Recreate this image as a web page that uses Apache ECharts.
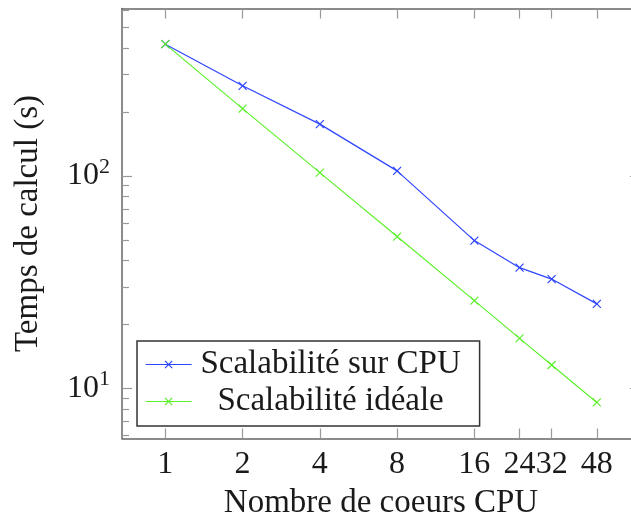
<!DOCTYPE html>
<html><head><meta charset="utf-8">
<script src="https://cdn.jsdelivr.net/npm/echarts@6/dist/echarts.min.js"></script>
<style>html,body{margin:0;padding:0;background:#fff}#c{width:631px;height:519px}</style>
</head><body><div id="c"></div>
<script>
const cores = [1, 2, 4, 8, 16, 24, 32, 48];
const cpuTimes = [416, 265, 175, 105.5, 49.6, 37, 32.7, 25];
const idealTimes = [416, 207, 103.5, 51.8, 25.9, 17.2, 12.9, 8.6];
const xTickValues = [1, 2, 4, 8, 16, 24, 32, 48];
const yMajorTicks = [10, 100];
const yMinorTicks = [6, 7, 8, 9, 20, 30, 40, 50, 60, 70, 80, 90, 200, 300, 400, 500, 600];
const seriesNames = ['Scalabilité sur CPU', 'Scalabilité idéale'];
const xTitle = 'Nombre de coeurs CPU';
const yTitle = 'Temps de calcul (s)';

const FONT = '"Liberation Serif", "Times New Roman", serif';
const TXT = '#1a1a1a';
const AXC = '#666';
const TKC = '#999';
const xMin = 0.678, xMax = 70.7, yMin = 5.82, yMax = 612;
const X = 'path://M0,0L10,10M10,0L0,10';

function xAx(pos, main) {
  return {
    type: 'log', logBase: 2, min: xMin, max: xMax, position: pos,
    axisLine: { show: true, lineStyle: { color: AXC, width: 1.5 } },
    axisTick: { show: true, inside: true, length: 10, customValues: xTickValues, lineStyle: { color: TKC, width: 1.2 } },
    axisLabel: main ? { show: true, customValues: xTickValues, formatter: v => String(Math.round(v)), fontFamily: FONT, fontSize: 32, color: TXT, margin: 10 } : { show: false },
    splitLine: { show: false }, minorTick: { show: false },
    name: main ? xTitle : '', nameLocation: 'middle', nameGap: 48,
    nameTextStyle: { fontFamily: FONT, fontSize: 33, color: TXT }
  };
}
function yAx(pos, major, main) {
  return {
    type: 'log', logBase: 10, min: yMin, max: yMax, position: pos,
    axisLine: { show: major, lineStyle: { color: AXC, width: 1.5 } },
    axisTick: { show: true, inside: true, length: major ? 10 : 7, customValues: major ? yMajorTicks : yMinorTicks, lineStyle: { color: TKC, width: 1.2 } },
    axisLabel: main ? {
      show: true, customValues: yMajorTicks, margin: 12,
      formatter: v => '{n|10}{s|' + Math.round(Math.log10(v)) + '}',
      rich: { n: { fontFamily: FONT, fontSize: 32, color: TXT, lineHeight: 40 }, s: { fontFamily: FONT, fontSize: 22, color: TXT, verticalAlign: 'top', lineHeight: 22 } }
    } : { show: false },
    splitLine: { show: false }, minorTick: { show: false },
    name: main ? yTitle : '', nameLocation: 'middle', nameGap: 77,
    nameTextStyle: { fontFamily: FONT, fontSize: 33, color: TXT }
  };
}

const chart = echarts.init(document.getElementById('c'), null, { renderer: 'canvas' });
chart.setOption({
  animation: false,
  backgroundColor: '#fff',
  grid: { left: 122, top: 8.5, width: 518, height: 430, containLabel: false, outerBoundsMode: 'none' },
  xAxis: [xAx('bottom', true), xAx('top', false)],
  yAxis: [yAx('left', true, true), yAx('left', false, false), yAx('right', true, false), yAx('right', false, false)],
  legend: {
    orient: 'vertical', left: 137, top: 341, data: seriesNames,
    backgroundColor: '#fff', borderColor: '#333', borderWidth: 1.5, borderRadius: 0,
    padding: [7, 15, 8, 8], itemWidth: 46, itemHeight: 9, itemGap: 4,
    itemStyle: { borderWidth: 1.2 }, lineStyle: { width: 1.2 },
    formatter: n => '{a|' + n + '}',
    textStyle: { fontFamily: FONT, fontSize: 33, color: TXT, rich: { a: { width: 268, align: 'center', fontFamily: FONT, fontSize: 33, color: TXT, lineHeight: 29 } } }
  },
  series: [
    { name: seriesNames[0], type: 'line', data: cores.map((c, i) => [c, cpuTimes[i]]),
      symbol: X, symbolSize: 8, color: '#2f45ff',
      lineStyle: { color: '#2f45ff', width: 1.2 },
      itemStyle: { color: '#2f45ff', borderColor: '#2f45ff', borderWidth: 1.2 } },
    { name: seriesNames[1], type: 'line', data: cores.map((c, i) => [c, idealTimes[i]]),
      symbol: X, symbolSize: 8, color: '#5cf02a',
      lineStyle: { color: '#5cf02a', width: 1.2 },
      itemStyle: { color: '#5cf02a', borderColor: '#5cf02a', borderWidth: 1.2 } }
  ]
});
</script></body></html>
